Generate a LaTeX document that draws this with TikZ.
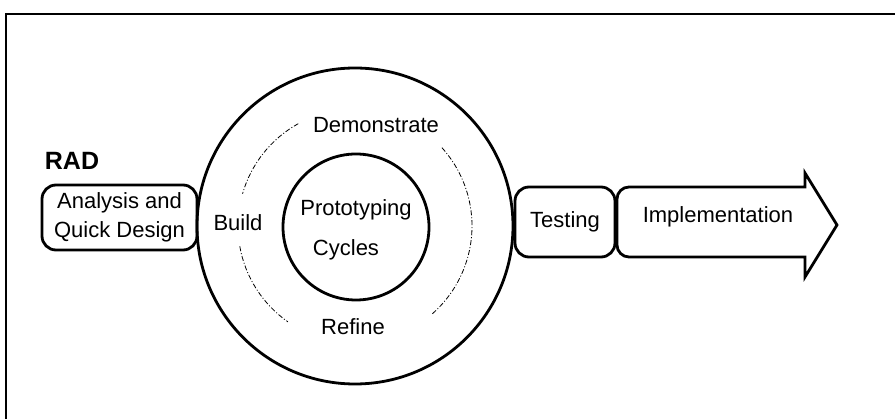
\documentclass[tikz,border=0pt]{standalone}
\usepackage{fontspec}
\setmainfont{Liberation Sans}
\usetikzlibrary{positioning,calc}

\begin{document}
\begin{tikzpicture}[
  x=1pt, y=-1pt,
  txt/.style={font=\fontsize{22}{29}\selectfont, inner sep=0pt, align=center},
  stage/.style={
    draw=black, rounded corners=14pt, line width=2.8pt,
    minimum height=65pt, inner sep=3pt
  },
  ring/.style={draw=black, circle, line width=2.8pt, inner sep=0pt},
  cyc/.style={draw=black, line width=0.8pt, dash pattern=on 5pt off 2pt on 1pt off 2pt}
]
  \useasboundingbox (0,0) rectangle (895,419);
  % frame
  \draw[line width=2.2pt] (6,419) -- (6,14) -- (895,14);

  \node[font=\fontsize{25}{25}\selectfont\bfseries, inner sep=0pt] (rad) at (72,161) {RAD};

  % prototyping cycles
  \node[ring, minimum size=316pt] (outer) at (355,226) {};
  \node[ring, minimum size=146pt] (inner) at (356,227) {};
  \node[txt] (proto) at (356,210) {Prototyping};
  \node[txt] (cyc)   at (346,250) {Cycles};
  \node[txt] (demo)  at (376,125) {Demonstrate};
  \node[txt] (build) at (238,223) {Build};
  \node[txt] (ref)   at (353,327) {Refine};
  \draw[cyc] (outer.center) ++(-119:117) arc[start angle=-119, end angle=-164, radius=117];
  \draw[cyc] (outer.center) ++(-190:117) arc[start angle=-190, end angle=-235, radius=117];
  \draw[cyc] (outer.center) ++(-42:117)  arc[start angle=-42,  end angle=49,   radius=117];

  % stages
  \node[stage, txt, minimum width=155pt, minimum height=65pt] (ana) at (119.5,217.5)
    {Analysis and\\Quick Design};
  \node[stage, txt, minimum width=100pt, minimum height=70pt] (test) at (565,222) {Testing};
  \draw[line width=2.8pt, line join=miter]
    (805,187) -- (805,173) -- (837,225) -- (805,277) -- (805,257)
    [rounded corners=12pt] -- (617,257) -- (617,187) [sharp corners] -- cycle;
  \node[txt] (impl) at (718,217) {Implementation};
\end{tikzpicture}
\end{document}
